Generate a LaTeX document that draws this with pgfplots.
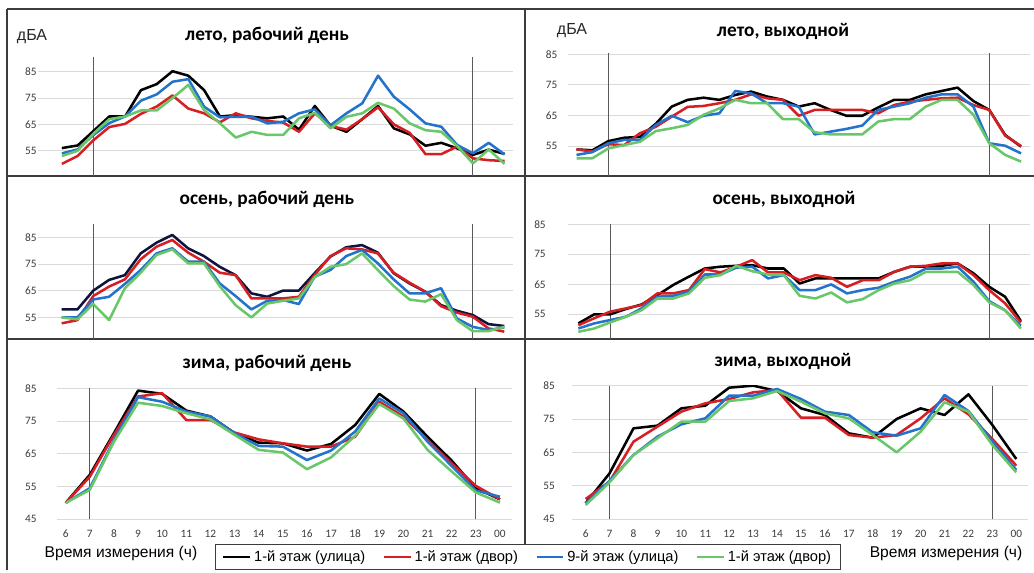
\documentclass[border=0pt]{standalone}
\usepackage{pgfplots}
\usepackage{pgfplotstable}
\pgfplotsset{compat=1.18}
\usepackage{fontspec}
\setmainfont{Carlito}
\newfontfamily\arialf{Liberation Sans}
\definecolor{cblk}{RGB}{0,0,0}
\definecolor{cnavy}{RGB}{15,20,60}
\definecolor{cred}{RGB}{215,30,35}
\definecolor{cblue}{RGB}{35,115,205}
\definecolor{cgreen}{RGB}{105,198,105}
\definecolor{gridc}{RGB}{218,218,218}
\definecolor{vlinec}{RGB}{90,90,90}
\definecolor{framec}{RGB}{60,60,60}
\definecolor{tickc}{RGB}{60,60,60}

\pgfplotstableread{
i k r b g
0 56 50 54 53
1 57 53 55.5 55
2 62.5 59 61 61.5
3 68 64 65.5 67
4 68 65.2 68 68
5 78 69 74 70.3
6 80.3 71.8 76.4 70.3
7 85.2 76 81.2 75
8 83.5 71 82.2 80
9 78 69.2 71.7 70.4
10 68 65.8 67.7 65.4
11 68.5 69.2 67.9 60
12 67.9 67.3 67.9 62.2
13 67.3 66.3 65.4 61
14 68 65.7 66 61
15 63 62.2 69.2 67.3
16 72 69.2 70.7 69.4
17 64.5 64.4 64.7 63.5
18 62.2 63 69.2 67.9
19 67 67 73 69.2
20 72 71.5 83.5 73.2
21 63.5 65 75.5 71
22 61.2 61.8 70.7 65.4
23 56.9 53.7 65.4 62.8
24 58 53.7 64.1 62.2
25 55.9 56.6 57.2 56.8
26 53.4 52.1 54 50.2
27 55.4 51.4 58 55.5
28 53.8 51.1 53.6 50
}\tTL

\pgfplotstableread{
i k r b g
0 53.9 53.9 52.1 51
1 53.6 53.2 53 51
2 56.6 55.6 55.9 54.2
3 57.7 55.3 57 55.3
4 58 59.2 57 56.4
5 62.3 61.3 61.9 59.9
6 67.9 64.6 64.9 60.8
7 70.1 67.8 62.8 61.9
8 70.8 68.1 64.9 65.2
9 70.1 69 65.7 67.3
10 71.7 70.1 73 70.1
11 72.8 71.9 72.2 69
12 71.2 70.6 69 69
13 70.1 70.1 69 63.8
14 67.9 64.9 67.9 63.8
15 69 66.8 58.8 59.5
16 66.8 66.8 59.7 58.8
17 64.9 66.8 60.6 58.8
18 64.9 66.8 61.7 58.8
19 67.6 65.7 66.8 63
20 70.1 68.4 67.9 63.8
21 70.1 69.5 69 63.8
22 71.9 70.1 70.8 67.9
23 73 70.6 71.9 70.1
24 74.1 70.8 71.9 70.1
25 69.7 68.4 67.9 65.2
26 66.8 66.8 55.9 55.9
27 58.6 58.4 55.1 52.1
28 54.8 55 52.6 49.9
}\tTR

\pgfplotstableread{
i k r b g
0 58.1 52.9 55.1 55.1
1 58.1 54.1 55.1 54.4
2 65.1 63.1 61.8 60.1
3 69.1 66.6 62.8 54.1
4 70.9 69.3 67.6 66
5 79 76.8 72.8 71.8
6 83 81.5 79 78.4
7 85.9 84 80.9 80.5
8 80.9 79.3 75.9 75.3
9 78 75.9 75.9 75.3
10 74 71.8 67.8 66.8
11 70.9 70.9 63.1 59.7
12 64.1 62.2 58.1 55.1
13 62.8 62.2 61.3 60.3
14 65.1 62.2 61.6 61.3
15 65.1 62.8 60.1 62.2
16 71.6 70.9 70.3 70.1
17 77.8 78 72.8 74
18 81.3 80.9 78 75
19 82.1 80.5 80.3 79
20 79.3 79 75.3 72.8
21 71.6 71.8 69.3 66.8
22 67.8 68.1 64.1 61.8
23 64.7 64.7 64.1 61
24 59.7 59.3 66 63.8
25 57.6 56.9 54.7 54.1
26 56 55.4 51.6 50
27 52.6 51 50.4 50
28 51.9 49.8 51.4 51.6
}\tML

\pgfplotstableread{
i k r b g
0 52 51.4 50.3 49.2
1 55 53.7 52 50.3
2 55 55.9 53.1 52.3
3 56.8 57 54.2 54.2
4 58.3 58.1 57 56.4
5 61.4 62 60.9 60.3
6 64.8 62 61.2 60.3
7 67.6 63.1 62.6 62
8 70.3 70.1 68.3 67.2
9 70.9 69 68.3 68.1
10 71.2 70.9 70.6 71.2
11 71.4 73.1 70.9 69.4
12 70.3 69 67 68.3
13 70.3 69 68.1 68.1
14 65.3 66.4 63.1 61.2
15 67 68.1 63.1 60.3
16 67 67.2 65 62.3
17 67 64.2 62 59
18 67 66.4 63.1 60.1
19 67 66.4 63.9 63.1
20 69.2 69.2 65.9 65.3
21 70.9 70.9 67.6 66.4
22 70.9 71.2 70.3 69.2
23 71.2 72 70.3 69.2
24 72 72 70.9 69.2
25 68.7 68.1 65.9 64.8
26 64.2 63.1 59.4 59
27 60.9 58.7 56.4 56.4
28 52.8 52.3 51.2 50.3
}\tMR

\pgfplotstableread{
h k r b g
6 50 50 50 50
7 58.6 58 54.5 54
8 71.3 70.8 69.2 68.7
9 84.3 82.5 82.3 80.6
10 83.3 83.5 80.9 79.6
11 78.2 75.3 77.9 77.4
12 76.4 75.3 76.4 75.5
13 71.3 71.5 71.3 70.8
14 68.4 69.4 67.4 66.2
15 68.2 68.2 67.2 65.4
16 66 67.2 63.1 60.3
17 68 67.2 66 63.9
18 73.8 70.2 71.8 70.5
19 83.3 80.9 81.9 80.2
20 77.9 76.4 77.4 75.8
21 70.2 69.2 68.7 66.2
22 62.9 62.1 61.3 59.6
23 54.5 55.2 53.8 53.2
24 51.1 51.1 51.9 50.1
}\tBL

\pgfplotstableread{
h k r b g
6 49.7 51 49.7 49.2
7 58.7 56.2 56.4 56
8 72.2 68.2 64.2 64.2
9 73 72.7 69.7 69.2
10 78.2 77.2 73.4 74.2
11 79 79.7 75.2 74.2
12 84.4 81 82 80.4
13 85 83 82 81.2
14 83.4 83.7 84 83.4
15 78.2 75.4 81 80.2
16 76.2 75.4 77.2 76.7
17 70.7 70.2 76.2 75.2
18 69.4 69.4 71 70.2
19 75 70.2 70 65
20 78.2 75.2 72.2 71.2
21 76.2 81.2 82.2 80
22 82.4 76.4 77.4 77.2
23 73.2 69 68.2 67.2
24 63 61 59.7 59
}\tBR

\pgfplotsset{
  panel/.style={
    scale only axis,
    anchor=south west,
    axis line style={draw=none},
    tick style={draw=none},
    major tick length=0pt,
    ymajorgrids,
    grid style={color=gridc, line width=0.75pt},
    /pgf/number format/assume math mode=true,
    ticklabel style={font=\fontsize{8.5}{9}\selectfont, text=tickc},
    yticklabel style={inner sep=0pt, anchor=east},
    extra x tick style={grid=major, major grid style={color=vlinec, line width=0.7pt}},
    extra x tick labels={},
    every axis plot/.append style={line width=1.9pt, line join=round, no markers},
  },
  toprow/.style={
    xtick=\empty,
    ytick={55,65,75,85},
    extra x ticks={2,26},
  },
  botrow/.style={
    xtick={6,...,24},
    xticklabels={6,7,8,9,10,11,12,13,14,15,16,17,18,19,20,21,22,23,00},
    xticklabel style={inner sep=0pt, anchor=base, yshift=-14pt},
    ytick={45,55,65,75,85},
    extra x ticks={7,23},
    ymin=45, ymax=85,
  },
}

\begin{document}
\begin{tikzpicture}[x=0.75pt,y=0.75pt]
\useasboundingbox (0,0) rectangle (1034,572);
\coordinate (pTL) at (38,396);
\coordinate (pTR) at (568,396);
\coordinate (pML) at (38,233);
\coordinate (pMR) at (568,233);
\coordinate (pBL) at (57,52.7);
\coordinate (pBR) at (572,53);

% frame lines
\draw[framec, line width=1.1pt] (7,563) -- (1034,563);
\draw[framec, line width=1.1pt] (7,396) -- (1034,396);
\draw[framec, line width=1.1pt] (7,233) -- (1034,233);
\draw[framec, line width=1.1pt] (7,563) -- (7,2);
\draw[framec, line width=1.1pt] (525,563) -- (525,28);

% top-left
\begin{axis}[panel, toprow, at={(pTL)}, width=356.25pt, height=89.25pt,
  xmin=-1.51, xmax=28.535, ymin=45.4, ymax=90.6,
  yticklabel style={xshift=-0.75pt}]
\addplot[cblk] table[x=i,y=k] {\tTL};
\addplot[cred] table[x=i,y=r] {\tTL};
\addplot[cblue] table[x=i,y=b] {\tTL};
\addplot[cgreen] table[x=i,y=g] {\tTL};
\end{axis}

% top-right
\begin{axis}[panel, toprow, at={(pTR)}, width=346.5pt, height=92.2pt,
  xmin=-0.535, xmax=28.565, ymin=45.2, ymax=85.4,
  yticklabel style={xshift=-7.7pt}]
\addplot[cblk] table[x=i,y=k] {\tTR};
\addplot[cred] table[x=i,y=r] {\tTR};
\addplot[cblue] table[x=i,y=b] {\tTR};
\addplot[cgreen] table[x=i,y=g] {\tTR};
\end{axis}

% middle-left
\begin{axis}[panel, toprow, at={(pML)}, width=356.25pt, height=86pt,
  xmin=-1.495, xmax=28.55, ymin=47.05, ymax=89.85,
  yticklabel style={xshift=-0.75pt}]
\addplot[cnavy] table[x=i,y=k] {\tML};
\addplot[cred] table[x=i,y=r] {\tML};
\addplot[cblue] table[x=i,y=b] {\tML};
\addplot[cgreen] table[x=i,y=g] {\tML};
\end{axis}

% middle-right
\begin{axis}[panel, toprow, at={(pMR)}, width=346.5pt, height=86.4pt,
  xmin=-0.655, xmax=28.58, ymin=46.8, ymax=85.2,
  yticklabel style={xshift=-16.5pt}]
\addplot[cblk] table[x=i,y=k] {\tMR};
\addplot[cred] table[x=i,y=r] {\tMR};
\addplot[cblue] table[x=i,y=b] {\tMR};
\addplot[cgreen] table[x=i,y=g] {\tMR};
\end{axis}

% bottom-left
\begin{axis}[panel, botrow, at={(pBL)}, width=341.25pt, height=98.25pt,
  xmin=5.64, xmax=24.5,
  yticklabel style={xshift=-15pt},
  legend columns=4,
  legend style={at={(axis description cs:0.347,-0.1885)}, anchor=north west,
    draw=framec, line width=0.9pt, fill=white,
    font=\arialf\fontsize{11}{13}\selectfont,
    inner xsep=5pt, inner ysep=2.5pt,
    /tikz/every even column/.append style={column sep=11pt}},
  legend image code/.code={\draw[#1, line width=2pt] (0pt,0pt) -- (20pt,0pt);}]
\addplot[cblk] table[x=h,y=k] {\tBL};
\addplot[cred] table[x=h,y=r] {\tBL};
\addplot[cblue] table[x=h,y=b] {\tBL};
\addplot[cgreen] table[x=h,y=g] {\tBL};
\legend{1-й этаж (улица), 1-й этаж (двор), 9-й этаж (улица), 1-й этаж (двор)}
\end{axis}

% bottom-right
\begin{axis}[panel, botrow, at={(pBR)}, width=342pt, height=100pt,
  xmin=5.43, xmax=24.49,
  yticklabel style={xshift=-12.75pt}]
\addplot[cblk] table[x=h,y=k] {\tBR};
\addplot[cred] table[x=h,y=r] {\tBR};
\addplot[cblue] table[x=h,y=b] {\tBR};
\addplot[cgreen] table[x=h,y=g] {\tBR};
\end{axis}

% titles
\begin{scope}[every node/.style={font=\fontsize{14.5}{16}\selectfont\bfseries, inner sep=0pt}]
\node at (267,537) {лето, рабочий день};
\node at (783,541) {лето, выходной};
\node at (267,373) {осень, рабочий день};
\node at (784,373) {осень, выходной};
\node at (267,209) {зима, рабочий день};
\node at (783,211) {зима, выходной};
\end{scope}

% unit labels
\node[font=\arialf\fontsize{12}{14}\selectfont, text=black!85, inner sep=0pt] at (32,535) {дБА};
\node[font=\arialf\fontsize{12}{14}\selectfont, text=black!85, inner sep=0pt] at (572,541) {дБА};

% x labels
\node[font=\arialf\fontsize{11.7}{14}\selectfont, inner sep=0pt] at (121,19) {Время измерения (ч)};
\node[font=\arialf\fontsize{11.7}{14}\selectfont, inner sep=0pt] at (946,19) {Время измерения (ч)};
\end{tikzpicture}
\end{document}
